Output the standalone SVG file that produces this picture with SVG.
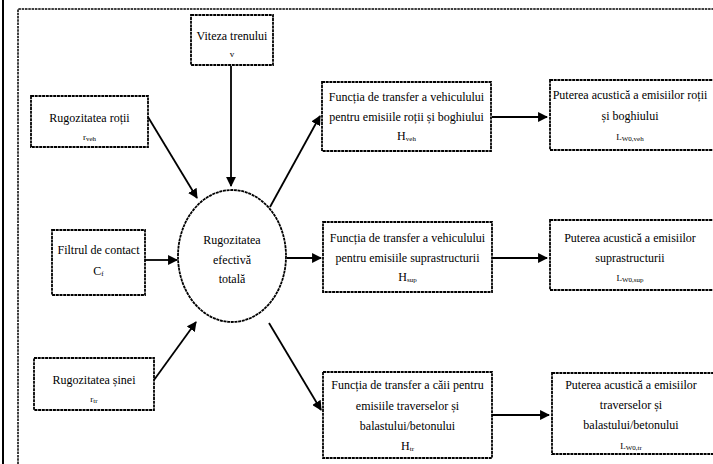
<svg xmlns="http://www.w3.org/2000/svg" width="713" height="464" viewBox="0 0 713 464">
<style>
.bx{fill:#fff;stroke:#000;stroke-width:1.8;stroke-dasharray:3 0.7}
.fr{fill:none;stroke:#000;stroke-width:1.5;stroke-dasharray:2.5 0.8}
.t{font-family:"Liberation Serif",serif;font-size:12px;fill:#000;text-anchor:middle}
.s{font-size:7px}
.c{fill:none;stroke:#000;stroke-width:1.8;marker-end:url(#ah)}
</style>
<defs>
<marker id="ah" viewBox="0 0 10 10" refX="9" refY="5" markerWidth="5.5" markerHeight="5.5" orient="auto" markerUnits="strokeWidth">
<path d="M0,0 L10,5 L0,10 Z" fill="#000"/>
</marker>
</defs>
<rect width="713" height="464" fill="#fff"/>
<line x1="3" y1="0" x2="3" y2="464" stroke="#000" stroke-width="2"/>
<path class="fr" d="M18,464 L18,9 L713,9"/>
<g id="connectors">
<line class="c" x1="231" y1="66" x2="231" y2="186"/>
<line class="c" x1="148" y1="117" x2="197" y2="198"/>
<line class="c" x1="145" y1="260" x2="177" y2="260"/>
<line class="c" x1="154" y1="380" x2="196" y2="322"/>
<line class="c" x1="270" y1="207" x2="320" y2="116"/>
<line class="c" x1="287" y1="258" x2="321" y2="258"/>
<line class="c" x1="269" y1="323" x2="321" y2="410"/>
<line class="c" x1="492" y1="117" x2="547" y2="117"/>
<line class="c" x1="492" y1="258" x2="547" y2="258"/>
<line class="c" x1="492" y1="415" x2="549" y2="415"/>
</g>
<g id="viteza">
<rect class="bx" x="191" y="15" width="82" height="50"/>
<text class="t" x="232" y="40">Viteza trenului</text>
<text class="t" x="232" y="57" style="font-size:9px">v</text>
</g>
<g id="rugozitatea-rotii">
<rect class="bx" x="31" y="96" width="117" height="51"/>
<text class="t" x="89.5" y="122">Rugozitatea roții</text>
<text class="t" x="89.5" y="140" style="font-size:9px">r<tspan class="s" dy="1">veh</tspan></text>
</g>
<g id="filtrul">
<rect class="bx" x="52" y="230" width="93" height="65"/>
<text class="t" x="98.5" y="254">Filtrul de contact</text>
<text class="t" x="98.5" y="275">C<tspan class="s" dy="1">f</tspan></text>
</g>
<g id="rugozitatea-sinei">
<rect class="bx" x="34" y="358" width="120" height="52"/>
<text class="t" x="94" y="384">Rugozitatea șinei</text>
<text class="t" x="94" y="402" style="font-size:9px">r<tspan class="s" dy="1">tr</tspan></text>
</g>
<g id="rugozitatea-totala">
<ellipse cx="232" cy="256" rx="54" ry="66" fill="#fff" stroke="#000" stroke-width="1.8" stroke-dasharray="3 0.7"/>
<text class="t" x="232" y="244">Rugozitatea</text>
<text class="t" x="232" y="264">efectivă</text>
<text class="t" x="232" y="283">totală</text>
</g>
<g id="h-veh">
<rect class="bx" x="322" y="82" width="169" height="69"/>
<text class="t" x="406.5" y="101">Funcția de transfer a vehiculului</text>
<text class="t" x="406.5" y="121">pentru emisiile roții și boghiului</text>
<text class="t" x="406.5" y="140">H<tspan class="s" dy="1">veh</tspan></text>
</g>
<g id="h-sup">
<rect class="bx" x="323" y="222" width="169" height="70"/>
<text class="t" x="407.5" y="242">Funcția de transfer a vehiculului</text>
<text class="t" x="407.5" y="262">pentru emisiile suprastructurii</text>
<text class="t" x="407.5" y="281">H<tspan class="s" dy="1">sup</tspan></text>
</g>
<g id="h-tr">
<rect class="bx" x="323" y="372" width="169" height="86"/>
<text class="t" x="407.5" y="389">Funcția de transfer a căii pentru</text>
<text class="t" x="407.5" y="410">emisiile traverselor și</text>
<text class="t" x="407.5" y="430">balastului/betonului</text>
<text class="t" x="407.5" y="450">H<tspan class="s" dy="1">tr</tspan></text>
</g>
<g id="l-veh">
<rect class="bx" x="550" y="80" width="170" height="70"/>
<text class="t" x="630" y="99">Puterea acustică a emisiilor roții</text>
<text class="t" x="630" y="120">și boghiului</text>
<text class="t" x="630" y="140" style="font-size:9px">L<tspan class="s" dy="1">W0,veh</tspan></text>
</g>
<g id="l-sup">
<rect class="bx" x="550" y="220" width="170" height="70"/>
<text class="t" x="630" y="242">Puterea acustică a emisiilor</text>
<text class="t" x="630" y="262">suprastructurii</text>
<text class="t" x="630" y="281" style="font-size:9px">L<tspan class="s" dy="1">W0,sup</tspan></text>
</g>
<g id="l-tr">
<rect class="bx" x="552" y="373" width="170" height="81"/>
<text class="t" x="631" y="389">Puterea acustică a emisiilor</text>
<text class="t" x="631" y="409">traverselor și</text>
<text class="t" x="631" y="429">balastului/betonului</text>
<text class="t" x="631" y="449" style="font-size:9px">L<tspan class="s" dy="1">W0,tr</tspan></text>
</g>
</svg>
